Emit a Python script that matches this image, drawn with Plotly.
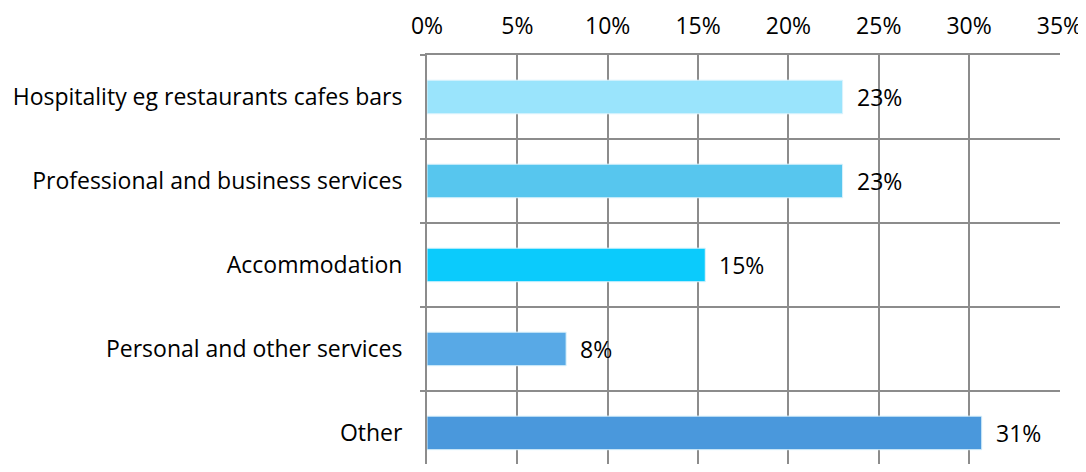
import plotly.graph_objects as go

# categories, top to bottom
categorias = ['Hospitality eg restaurants cafes bars',
              'Professional and business services',
              'Accommodation',
              'Personal and other services',
              'Other']
valores = [23.0, 23.0, 15.4, 7.7, 30.7]     # en %
colores = ['#9AE4FC', '#57C6EE', '#0BCBFC', '#58A9E6', '#4A98DC']
ticks_x = [0, 5, 10, 15, 20, 25, 30, 35]

posiciones = list(range(len(categorias)))
etiquetas = [f'{v:.0f}%' for v in valores]

FUENTE = 'Open Sans'
TAM = 23
GRIS = '#8C8C8C'

fig = go.Figure()

fig.add_trace(go.Bar(x=valores,
                     y=posiciones,
                     orientation='h',
                     width=0.4,
                     marker=dict(color=colores, line=dict(color='#DDF3FC', width=1)),
                     hoverinfo='skip'))

# etiquetas de valor al final de cada barra
for v, p, t in zip(valores, posiciones, etiquetas):
    fig.add_annotation(x=v, y=p, text=t, showarrow=False,
                       xanchor='left', xshift=12,
                       font=dict(family=FUENTE, size=TAM, color='#000000'))

fig.update_xaxes(side='top', range=[0, 35.03], tickvals=ticks_x,
                 ticktext=[f'{t}%' for t in ticks_x],
                 showgrid=True, gridcolor=GRIS, gridwidth=2,
                 showline=True, linecolor=GRIS, linewidth=2,
                 ticks='', ticklabelstandoff=10, zeroline=False,
                 ticklabeloverflow='allow',
                 tickfont=dict(family=FUENTE, size=TAM, color='#000000'))

# el eje y se corta antes de la ultima linea, como en la imagen original
fig.update_yaxes(range=[4.37, -0.5], tickvals=posiciones, ticktext=categorias,
                 showgrid=False, zeroline=False,
                 showline=True, linecolor=GRIS, linewidth=2,
                 ticks='', ticklabelstandoff=18,
                 minor=dict(tickvals=[p + 0.5 for p in posiciones[:-1]] + [-0.5],
                            showgrid=True, gridcolor=GRIS, gridwidth=2,
                            ticks='outside', ticklen=5, tickcolor=GRIS, tickwidth=2),
                 tickfont=dict(family=FUENTE, size=TAM, color='#000000'))

fig.update_layout(width=1078, height=456,
                  margin=dict(l=419, r=26, t=47, b=0),
                  plot_bgcolor='white', paper_bgcolor='white',
                  showlegend=False, bargap=0.6)

fig.write_html("out.html")
